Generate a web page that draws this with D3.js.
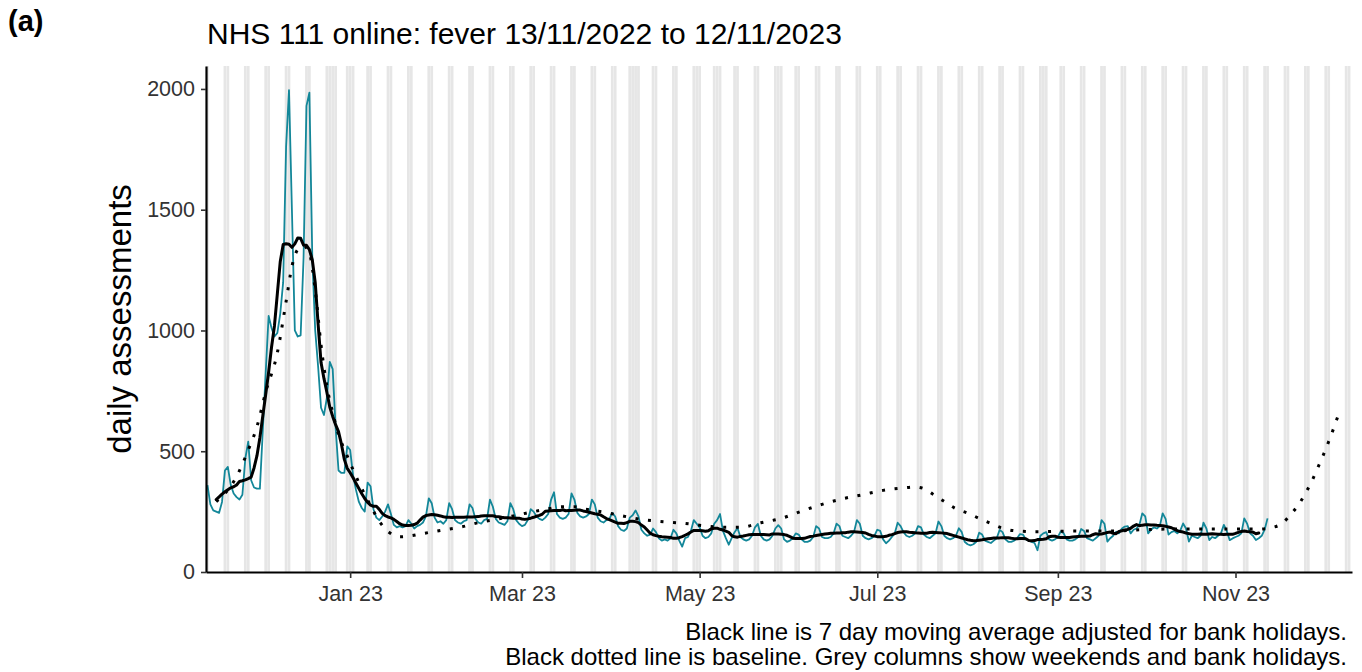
<!DOCTYPE html>
<html>
<head>
<meta charset="utf-8">
<script src="https://cdn.jsdelivr.net/npm/d3@7"></script>
<style>
  body { margin: 0; background: #fff; }
  svg text { font-family: "Liberation Sans", Arial, Helvetica, sans-serif; }
</style>
</head>
<body>
<div id="chart"></div>
<script>
// first day of the daily series (a Sunday)
var startDate = "2022-11-13";

// daily assessments, one row per week (Sun .. Sat)
var dailyCounts = [
  360, 280, 255, 250, 245, 290, 420,
  435, 360, 325, 310, 300, 320, 470,
  540, 380, 350, 345, 345, 585, 825,
  1060, 1010, 975, 990, 1070, 1200, 1760,
  1995, 1500, 1000, 975, 980, 1300, 1930,
  1985, 1300, 1000, 850, 680, 650, 720,
  870, 840, 600, 420, 410, 410, 520,
  505, 400, 340, 290, 265, 250, 370,
  355, 260, 225, 215, 230, 250, 280,
  240, 195, 185, 190, 185, 190, 215,
  200, 180, 190, 195, 205, 230, 305,
  285, 225, 205, 210, 200, 215, 285,
  260, 215, 205, 200, 210, 215, 280,
  265, 220, 205, 200, 215, 220, 300,
  270, 220, 205, 200, 195, 210, 285,
  260, 215, 200, 190, 195, 215, 260,
  250, 230, 220, 215, 225, 240, 300,
  330, 240, 225, 220, 225, 240, 325,
  300, 245, 230, 225, 230, 240, 300,
  280, 225, 210, 205, 215, 220, 245,
  230, 190, 175, 170, 180, 225, 235,
  255, 230, 175, 160, 150, 155, 180,
  165, 140, 130, 135, 130, 140, 175,
  160, 130, 105, 140, 145, 170, 215,
  200, 185, 150, 140, 145, 160, 200,
  215, 240, 170, 140, 113, 140, 165,
  182, 145, 135, 130, 135, 150, 185,
  199, 150, 135, 130, 135, 150, 180,
  194, 180, 135, 125, 130, 140, 160,
  155, 135, 125, 125, 130, 145, 190,
  180, 145, 140, 140, 145, 160, 200,
  190, 150, 145, 140, 150, 165, 215,
  200, 150, 140, 135, 140, 150, 175,
  170, 135, 119, 130, 145, 160, 204,
  190, 165, 150, 145, 150, 160, 190,
  185, 155, 145, 140, 150, 160, 209,
  190, 150, 140, 135, 140, 150, 181,
  165, 125, 115, 110, 115, 125, 163,
  155, 130, 125, 120, 130, 140, 174,
  165, 135, 125, 125, 130, 140, 157,
  155, 135, 130, 125, 120, 90, 150,
  160, 165, 135, 130, 135, 145, 168,
  160, 135, 130, 130, 135, 145, 178,
  170, 140, 135, 130, 140, 150, 215,
  200, 126, 140, 150, 167, 160, 180,
  188, 190, 160, 175, 180, 195, 243,
  230, 160, 175, 185, 180, 190, 243,
  220, 155, 165, 170, 160, 170, 201,
  180, 126, 150, 145, 140, 150, 204,
  180, 132, 145, 140, 150, 160, 195,
  170, 132, 139, 145, 150, 160, 222,
  200, 160, 150, 132, 140, 150, 175,
  222
];

// baseline (dotted line)
var baselineDates = [
  "2022-11-16", "2022-11-23", "2022-11-27", "2022-11-30", "2022-12-03", "2022-12-07",
  "2022-12-10", "2022-12-12", "2022-12-14", "2022-12-16", "2022-12-18", "2022-12-20",
  "2022-12-22", "2022-12-24", "2022-12-26", "2022-12-28", "2022-12-31", "2023-01-04",
  "2023-01-08", "2023-01-11", "2023-01-14", "2023-01-18", "2023-01-22", "2023-01-25",
  "2023-02-01", "2023-02-08", "2023-02-15", "2023-02-22", "2023-03-01", "2023-03-08",
  "2023-03-15", "2023-03-19", "2023-03-22", "2023-03-29", "2023-04-05", "2023-04-12",
  "2023-04-19", "2023-04-26", "2023-05-03", "2023-05-10", "2023-05-15", "2023-05-22",
  "2023-05-29", "2023-06-05", "2023-06-12", "2023-06-19", "2023-06-26", "2023-07-03",
  "2023-07-10", "2023-07-14", "2023-07-17", "2023-07-20", "2023-07-24", "2023-07-28",
  "2023-08-01", "2023-08-05", "2023-08-09", "2023-08-13", "2023-08-17", "2023-08-24",
  "2023-08-31", "2023-09-07", "2023-09-14", "2023-09-21", "2023-09-28", "2023-10-05",
  "2023-10-12", "2023-10-19", "2023-10-26", "2023-11-02", "2023-11-09", "2023-11-13",
  "2023-11-17", "2023-11-20", "2023-11-23", "2023-11-25", "2023-11-27", "2023-11-29",
  "2023-12-01", "2023-12-03", "2023-12-05", "2023-12-07"
];
var baselineValues = [
  291, 395, 505, 602, 745, 908,
  1120, 1265, 1335, 1350, 1320, 1168,
  940, 770, 660, 570, 480, 370,
  275, 210, 168, 146, 150, 157,
  172, 186, 207, 222, 240, 257,
  270, 270, 262, 248, 231, 216,
  208, 201, 191, 185, 185, 204,
  222, 252, 280, 303, 320, 338,
  348, 352, 345, 323, 292, 262,
  244, 222, 201, 181, 171, 167,
  168, 170, 170, 170, 174, 177,
  178, 178, 178, 178, 178, 183,
  201, 239, 285, 326, 371, 425,
  480, 540, 605, 675
];

var bankHolidays = ["2022-12-26", "2022-12-27", "2023-01-02", "2023-04-07", "2023-04-10",
                    "2023-05-01", "2023-05-08", "2023-05-29", "2023-08-28", "2023-12-25", "2023-12-26"];

var yTicks = [0, 500, 1000, 1500, 2000];
var xTickDates = ["2023-01-01", "2023-03-01", "2023-05-01", "2023-07-01", "2023-09-01", "2023-11-01"];

var parse = d3.timeParse("%Y-%m-%d");
var fmt = d3.timeFormat("%Y-%m-%d");

var W = 1362, H = 672;
var plotLeft = 206, plotRight = 1352, plotTop = 66, plotBottom = 572;

var svg = d3.select("#chart").append("svg")
  .attr("width", W)
  .attr("height", H);

var x = d3.scaleTime()
  .domain([d3.timeHour.offset(parse("2022-11-13"), -12), parse("2023-12-11")])
  .range([plotLeft, plotRight]);

var y = d3.scaleLinear()
  .domain([0, 2095])
  .range([plotBottom, plotTop]);

var start = parse(startDate);
var series = dailyCounts.map(function(v, i) {
  return {date: d3.timeDay.offset(start, i), value: v};
});

// 7 day centred moving average of the daily counts
var avg = [];
for (var i = 3; i < dailyCounts.length - 3; i++) {
  avg.push({date: series[i].date, value: d3.mean(dailyCounts.slice(i - 3, i + 4))});
}

var baseline = baselineDates.map(function(d, i) {
  return {date: parse(d), value: baselineValues[i]};
});

svg.append("clipPath").attr("id", "plotclip")
  .append("rect")
  .attr("x", plotLeft).attr("y", plotTop)
  .attr("width", plotRight - plotLeft).attr("height", plotBottom - plotTop);

// grey columns: weekends and bank holidays
var days = d3.timeDay.range(parse("2022-11-12"), parse("2023-12-12"));
var shaded = days.filter(function(d) {
  return d.getDay() === 0 || d.getDay() === 6 || bankHolidays.indexOf(fmt(d)) >= 0;
});

var plot = svg.append("g").attr("clip-path", "url(#plotclip)");

plot.selectAll("rect.col")
  .data(shaded)
  .enter().append("rect")
  .attr("class", "col")
  .attr("x", function(d) {
    var w = x(d3.timeDay.offset(d, 1)) - x(d);
    return x(d) - w * 0.47;
  })
  .attr("width", function(d) { return (x(d3.timeDay.offset(d, 1)) - x(d)) * 0.94; })
  .attr("y", plotTop)
  .attr("height", plotBottom - plotTop)
  .attr("fill", "#e6e6e6");

var line = d3.line()
  .x(function(d) { return x(d.date); })
  .y(function(d) { return y(d.value); });

plot.append("path")
  .datum(series)
  .attr("d", line)
  .attr("fill", "none")
  .attr("stroke", "#138799")
  .attr("stroke-width", 1.8)
  .attr("stroke-linejoin", "round");

plot.append("path")
  .datum(avg)
  .attr("d", line)
  .attr("fill", "none")
  .attr("stroke", "#000")
  .attr("stroke-width", 3)
  .attr("stroke-linejoin", "round")
  .attr("stroke-linecap", "round");

plot.append("path")
  .datum(baseline)
  .attr("d", line.curve(d3.curveMonotoneX))
  .attr("fill", "none")
  .attr("stroke", "#000")
  .attr("stroke-width", 3)
  .attr("stroke-dasharray", "3,9.6");

// axes
var yAxis = svg.append("g")
  .attr("transform", "translate(" + plotLeft + ",0)")
  .call(d3.axisLeft(y).tickValues(yTicks).tickFormat(d3.format("d"))
    .tickSize(5).tickSizeOuter(0).tickPadding(6));

var xAxis = svg.append("g")
  .attr("transform", "translate(0," + plotBottom + ")")
  .call(d3.axisBottom(x)
    .tickValues(xTickDates.map(parse))
    .tickFormat(d3.timeFormat("%b %y"))
    .tickSize(6).tickSizeOuter(0).tickPadding(8));

[xAxis, yAxis].forEach(function(g) {
  g.select(".domain").attr("stroke", "#000").attr("stroke-width", 2.2);
  g.selectAll(".tick line").attr("stroke", "#333").attr("stroke-width", 1.6);
  g.selectAll(".tick text")
    .attr("fill", "#333")
    .style("font-size", "21.5px")
    .style("font-family", '"Liberation Sans", Arial, sans-serif');
});

// labels
svg.append("text")
  .attr("x", 8)
  .attr("y", 31)
  .style("font-size", "29px")
  .style("font-weight", "bold")
  .text("(a)");

svg.append("text")
  .attr("x", 207)
  .attr("y", 44)
  .style("font-size", "30px")
  .text("NHS 111 online: fever 13/11/2022 to 12/11/2023");

svg.append("text")
  .attr("transform", "translate(131," + ((plotTop + plotBottom) / 2) + ") rotate(-90)")
  .attr("text-anchor", "middle")
  .style("font-size", "33px")
  .text("daily assessments");

svg.append("text")
  .attr("x", 1347)
  .attr("y", 640)
  .attr("text-anchor", "end")
  .style("font-size", "24px")
  .text("Black line is 7 day moving average adjusted for bank holidays.");

svg.append("text")
  .attr("x", 1347)
  .attr("y", 665)
  .attr("text-anchor", "end")
  .style("font-size", "24px")
  .text("Black dotted line is baseline. Grey columns show weekends and bank holidays.");
</script>
</body>
</html>
